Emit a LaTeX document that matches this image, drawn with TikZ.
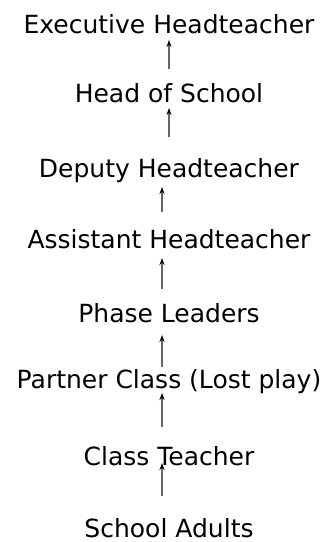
\documentclass[tikz,border=0pt]{standalone}
\usepackage{fontspec}
\setmainfont{DejaVu Sans}
\usetikzlibrary{arrows.meta}

\tikzset{
  role/.style={anchor=base, inner sep=0pt, font=\fontsize{25}{30}\selectfont},
  upline/.style={-{Stealth[length=7pt,width=5pt,color=black]}, line width=1.4pt, black!60}
}

\begin{document}
\begin{tikzpicture}[x=1pt,y=-1pt]
\useasboundingbox (0,0) rectangle (332,542);

% Roles, top to bottom
\node[role] (exec) at (169,33) {Executive Headteacher};
\node[role] (hos) at (169,102) {Head of School};
\node[role] (deputy) at (169,177) {Deputy Headteacher};
\node[role] (assist) at (169,248) {Assistant Headteacher};
\node[role] (phase) at (169,322) {Phase Leaders};
\node[role] (partner) at (169,388) {Partner Class (Lost play)};
\node[role] (teacher) at (169,465) {Class Teacher};
\node[role] (adults) at (169,537) {School Adults};

% Arrows pointing up the line
\foreach \lo/\hi/\dx/\s/\t in {
hos/exec/0/33/-7,
deputy/hos/0/40/-6,
assist/deputy/-7/36/-10,
phase/assist/-7/33/-10,
partner/phase/-7/21/-13,
teacher/partner/-7/38/-5,
adults/teacher/-7/41/2
}
{
\draw[upline] ([xshift=\dx pt,yshift=\s pt]\lo.base) -- ([xshift=\dx pt,yshift=\t pt]\hi.base);
}

\end{tikzpicture}
\end{document}
